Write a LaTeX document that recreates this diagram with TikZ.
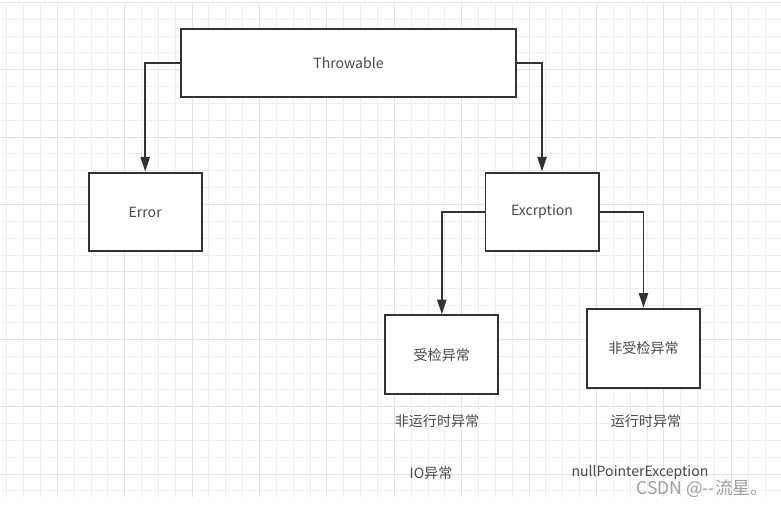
\documentclass[tikz,border=0pt]{standalone}
\usepackage{fontspec}
\setmainfont{Noto Sans CJK SC}
\usetikzlibrary{arrows.meta}

\definecolor{gridminor}{HTML}{EEEEEE}
\definecolor{gridmajor}{HTML}{E2E2E2}
\definecolor{linegray}{HTML}{333333}
\definecolor{textgray}{HTML}{484848}

\tikzset{
	box/.style={draw=linegray, line width=1.4pt, fill=white, text=textgray, inner sep=0pt,
		minimum width=2.825cm, minimum height=1.97cm, font=\fontsize{10}{12}\selectfont},
	link/.style={draw=linegray, line width=1.4pt, -{Triangle[length=3.7mm,width=2.3mm]}},
	note/.style={text=textgray, inner sep=0pt, font=\fontsize{10}{12}\selectfont},
}

\begin{document}
\begin{tikzpicture}[x=0.025cm, y=-0.025cm]
			%%%%% START %%%%%
			
			\fill[white] (0, 0) rectangle (781, 505);
			\useasboundingbox (0, 0) rectangle (781, 505);
			
			% grid
			\foreach \k in {-3,...,43}
				\draw[gridminor, line width=0.7pt] ({57.3+16.85*\k}, 2.3) -- ({57.3+16.85*\k}, 497);
			\foreach \k in {0,...,29}
				\draw[gridminor, line width=0.7pt] (0, {2.3+16.85*\k}) -- (781, {2.3+16.85*\k});
			\foreach \k in {0,...,10}
				\draw[gridmajor, line width=0.7pt] ({57.3+67.4*\k}, 2.3) -- ({57.3+67.4*\k}, 497);
			\foreach \k in {0,...,7}
				\draw[gridmajor, line width=0.7pt] (0, {2.3+67.4*\k}) -- (781, {2.3+67.4*\k});
			
			% boxes
			\node[box, minimum width=8.375cm, minimum height=1.69cm] (thr) at (348.5, 62.9) {Throwable};
			\node[box] (err) at (145.2, 212) {Error};
			\node[box] (exc) at (542, 212) {Excrption};
			\node[box] (chk) at (441.8, 354.7) {受检异常};
			\node[box] (unc) at (643.5, 348.2) {非受检异常};
			
			% arrows
			\draw[link] (thr.west) -| (err.north);
			\draw[link] (thr.east) -| (exc.north);
			\draw[link] (exc.west) -| (chk.north);
			\draw[link] (exc.east) -| (unc.north);
			
			% notes
			\node[note] (chknote) at (437, 421.5) {非运行时异常};
			\node[note] (uncnote) at (646, 421.5) {运行时异常};
			\node[note] (io) at (431, 473) {IO异常};
			\node[note] (npe) at (640, 473) {nullPointerException};
			
			\node[note, text=black!38, font=\fontsize{12.5}{15}\selectfont] (mark) at (702, 489) {CSDN @-{}-流星。};
			
			%%%%% END %%%%%
\end{tikzpicture}
\end{document}
